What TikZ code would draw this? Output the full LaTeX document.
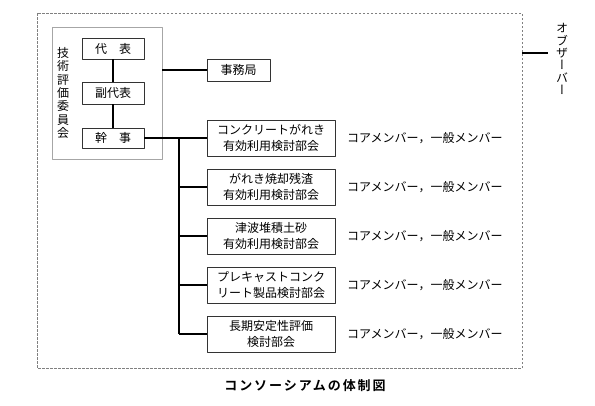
\documentclass[tikz,border=0pt]{standalone}
\usepackage{fontspec}
\setmainfont{Noto Sans CJK JP}
\newfontfamily\jpvert[RawFeature=+vert]{Noto Sans CJK JP}
\newfontfamily\jpcap[LetterSpace=15]{Noto Sans CJK JP Bold}
\usetikzlibrary{positioning}
\begin{document}
\begin{tikzpicture}[x=1pt, y=-1pt, line join=round,
		box/.style={draw=black!80, line width=0.8pt, fill=white, inner sep=0pt, align=center, font=\fontsize{12}{16.5}\selectfont},
		subbox/.style={box, minimum width=128pt, minimum height=36pt},
		topbox/.style={box, minimum width=62pt, minimum height=21pt},
		vtext/.style={inner sep=0pt, align=center, font=\jpvert\fontsize{12}{13.3}\selectfont},
		member/.style={inner sep=0pt, anchor=west, font=\fontsize{12}{14}\selectfont},
		link/.style={line width=2pt}]
		\def\subx{271} \def\subtop{138} \def\subgap{49}
		\useasboundingbox (0,0) rectangle (595,405);
		% frame
		\draw[black!50, line width=1pt, dash pattern=on 2.5pt off 1.5pt] (37,13) rectangle (522,368);
		% committee
		\node[draw=black!35, line width=0.8pt, minimum width=110pt, minimum height=132pt] (iinkai) at (107,93) {};
		\node[vtext] (iinkaitxt) at (63,93) {技\\術\\評\\価\\委\\員\\会};
		\node[topbox] (daihyo) at (113,48.5) {代　表};
		\node[topbox, minimum height=22pt] (fukudaihyo) at (113,93) {副代表};
		\node[topbox, minimum height=20pt] (kanji) at (113,138) {幹　事};
		\draw[link] (daihyo) -- (fukudaihyo) -- (kanji);
		\node[topbox, minimum width=63pt, minimum height=22pt] (jimukyoku) at (238.5,70) {事務局};
		\draw[link] (iinkai.east |- jimukyoku.west) -- (jimukyoku.west);
		% subcommittees
		\foreach \txt [count=\i] in {コンクリートがれき\\有効利用検討部会, がれき焼却残渣\\有効利用検討部会, 津波堆積土砂\\有効利用検討部会, プレキャストコンク\\リート製品検討部会, 長期安定性評価\\検討部会}
		{
			\node[subbox] (sub\i) at (\subx,{\subtop+(\i-1)*\subgap}) {\txt};
			\node[member] (mem\i) at (347,{\subtop+(\i-1)*\subgap}) {コアメンバー，一般メンバー};
		}
		\coordinate (trunk) at (179,\subtop);
		\draw[link] (kanji.east) -- (sub1.west);
		\draw[link] (trunk) -- (trunk |- sub5.west);
		\foreach \i in {2,...,5}
		\draw[link] (trunk |- sub\i.west) -- (sub\i.west);
		% observer
		\coordinate (obs) at (522,53);
		\node[vtext, font=\jpvert\fontsize{12}{12.3}\selectfont] (obstxt) at (562,59) {オ\\ブ\\ザ\\ー\\バ\\ー};
		\draw[link] (obs) -- ++(26,0);
		% caption
		\node[inner sep=0pt, font=\jpcap\fontsize{13}{15}\selectfont] (caption) at (305,386) {コンソーシアムの体制図};
	\end{tikzpicture}
\end{document}
